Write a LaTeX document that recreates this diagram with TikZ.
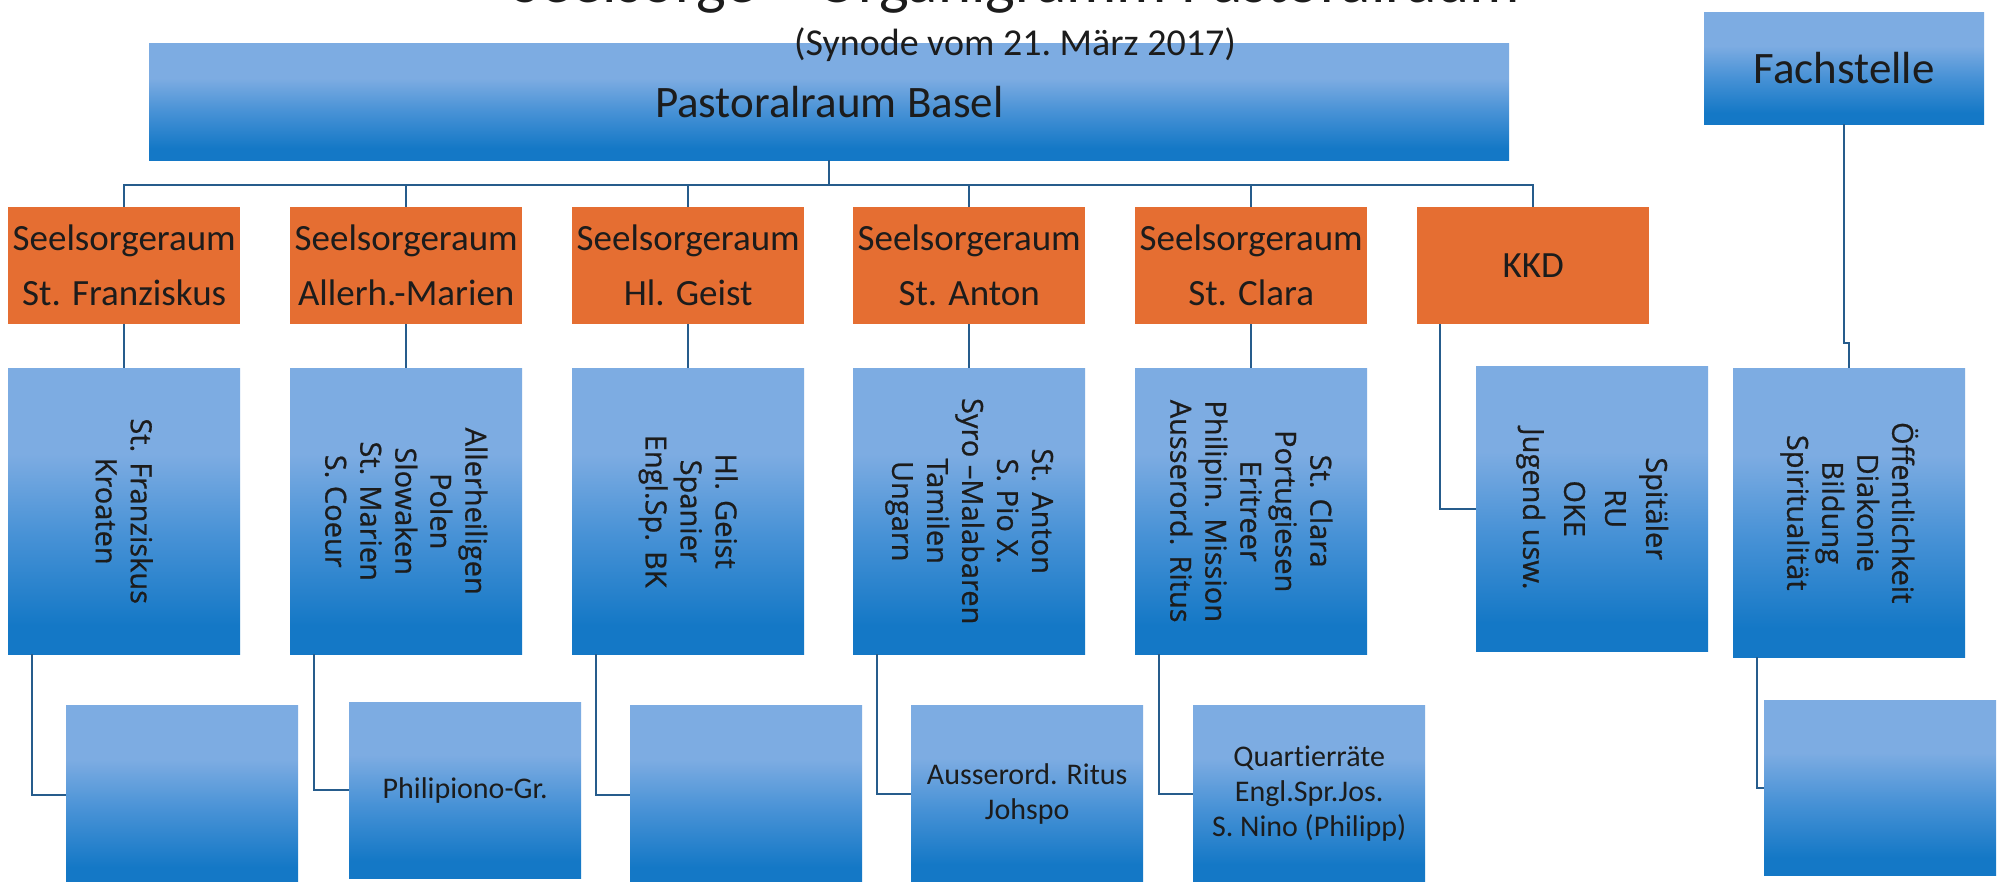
\documentclass[tikz,border=0pt]{standalone}
\usepackage{fontspec}
\setmainfont{Carlito}[Ligatures=NoCommon]
\newfontfamily\osans{Open Sans}[FakeBold=0.7]
\definecolor{orng}{RGB}{229,110,50}
\definecolor{blight}{RGB}{125,172,226}
\definecolor{bmid}{RGB}{72,146,214}
\definecolor{bdark}{RGB}{20,120,198}
\definecolor{lnc}{RGB}{38,92,140}
\definecolor{txt}{RGB}{28,28,28}
\pgfdeclareverticalshading{officeblue}{100bp}{color(0bp)=(bdark); color(30bp)=(bdark); color(46bp)=(bmid); color(60bp)=(blight); color(100bp)=(blight)}
\tikzset{
  orangebox/.style={fill=orng, minimum width=232pt, minimum height=117pt, inner sep=0pt, anchor=north west, align=center, font=\fontsize{37}{55}\selectfont, text=txt},
  bluebox/.style={shading=officeblue, minimum width=232pt, inner sep=0pt, anchor=north west, align=center, text=txt, font=\fontsize{30}{35}\selectfont},
  vlabel/.style={rotate=-90, align=center, font=\osans\fontsize{29}{35}\selectfont, text=txt, inner sep=0pt},
  conn/.style={draw=lnc, line width=2pt},
}
\begin{document}
\begin{tikzpicture}[x=1pt,y=-1pt]
\useasboundingbox (0,0) rectangle (1998,882);
\clip (0,0) rectangle (1998,882);
\fill[white] (0,0) rectangle (1998,882);

% title (cut off at top)
\node[font=\fontsize{63}{70}\selectfont, anchor=base west, inner sep=0pt, text=txt] (title) at (511,3) {Seelsorge – Organigramm Pastoralraum};

% top boxes
\node[bluebox, minimum width=1360pt, minimum height=117pt, font=\fontsize{45}{50}\selectfont] (past) at (149,43) {Pastoralraum Basel};
\node[font=\fontsize{38}{40}\selectfont, anchor=base, inner sep=0pt, text=txt] (syn) at (1015,56) {(Synode vom 21.~März 2017)};
\node[bluebox, minimum width=280pt, minimum height=112pt, font=\fontsize{45}{50}\selectfont] (fach) at (1704,12) {Fachstelle};

% orange boxes
\node[orangebox] (o1) at (8,207) {Seelsorgeraum\\St. Franziskus};
\node[orangebox] (o2) at (290,207) {Seelsorgeraum\\Allerh.-Marien};
\node[orangebox] (o3) at (572,207) {Seelsorgeraum\\Hl. Geist};
\node[orangebox] (o4) at (853,207) {Seelsorgeraum\\St. Anton};
\node[orangebox] (o5) at (1135,207) {Seelsorgeraum\\St. Clara};
\node[orangebox] (o6) at (1417,207) {KKD};

% second level boxes
\node[bluebox, minimum height=286pt] (b1) at (8,368) {};
\node[bluebox, minimum height=286pt] (b2) at (290,368) {};
\node[bluebox, minimum height=286pt] (b3) at (572,368) {};
\node[bluebox, minimum height=286pt] (b4) at (853,368) {};
\node[bluebox, minimum height=286pt] (b5) at (1135,368) {};
\node[bluebox, minimum height=285pt] (b6) at (1476,366) {};
\node[bluebox, minimum height=289pt] (b7) at (1733,368) {};

\node[vlabel] (t1) at (b1.center) {St. Franziskus\\Kroaten};
\node[vlabel] (t2) at (b2.center) {Allerheiligen\\Polen\\Slowaken\\St. Marien\\S. Coeur};
\node[vlabel] (t3) at (b3.center) {Hl. Geist\\Spanier\\Engl.Sp. BK};
\node[vlabel] (t4) at (b4.center) {St. Anton\\S. Pio X.\\Syro –Malabaren\\Tamilen\\Ungarn};
\node[vlabel] (t5) at (b5.center) {St. Clara\\Portugiesen\\Eritreer\\Philipin. Mission\\Ausserord. Ritus};
\node[vlabel, font=\osans\fontsize{29}{41}\selectfont] (t6) at (b6.center) {Spitäler\\RU\\OKE\\Jugend usw.};
\node[vlabel] (t7) at (b7.center) {Öffentlichkeit\\Diakonie\\Bildung\\Spiritualität};

% third level boxes
\node[bluebox, minimum height=180pt] (c1) at (66,705) {};
\node[bluebox, minimum height=176pt] (c2) at (349,702) {Philipiono-Gr.};
\node[bluebox, minimum height=180pt] (c3) at (630,705) {};
\node[bluebox, minimum height=177pt] (c4) at (911,705) {Ausserord. Ritus\\Johspo};
\node[bluebox, minimum height=177pt] (c5) at (1193,705) {Quartierräte\\Engl.Spr.Jos.\\S. Nino (Philipp)};
\node[bluebox, minimum height=175pt] (c7) at (1764,700) {};

% connectors
\coordinate (bus) at (0,185);
\foreach \o in {o1,o2,o3,o4,o5,o6}{
  \draw[conn] (past.south) -- (past.south |- bus) -| (\o.north);
}
\foreach \o/\b in {o1/b1,o2/b2,o3/b3,o4/b4,o5/b5}{
  \draw[conn] (\o.south) -- (\b.north);
}
\draw[conn] ([xshift=23pt]o6.south west) |- (b6.west);
\draw[conn] (fach.south) -- ++(0,219) -| (b7.north);
\foreach \b/\c in {b1/c1,b2/c2,b3/c3,b4/c4,b5/c5,b7/c7}{
  \draw[conn] ([xshift=24pt]\b.south west) |- (\c.west);
}
\end{tikzpicture}
\end{document}
